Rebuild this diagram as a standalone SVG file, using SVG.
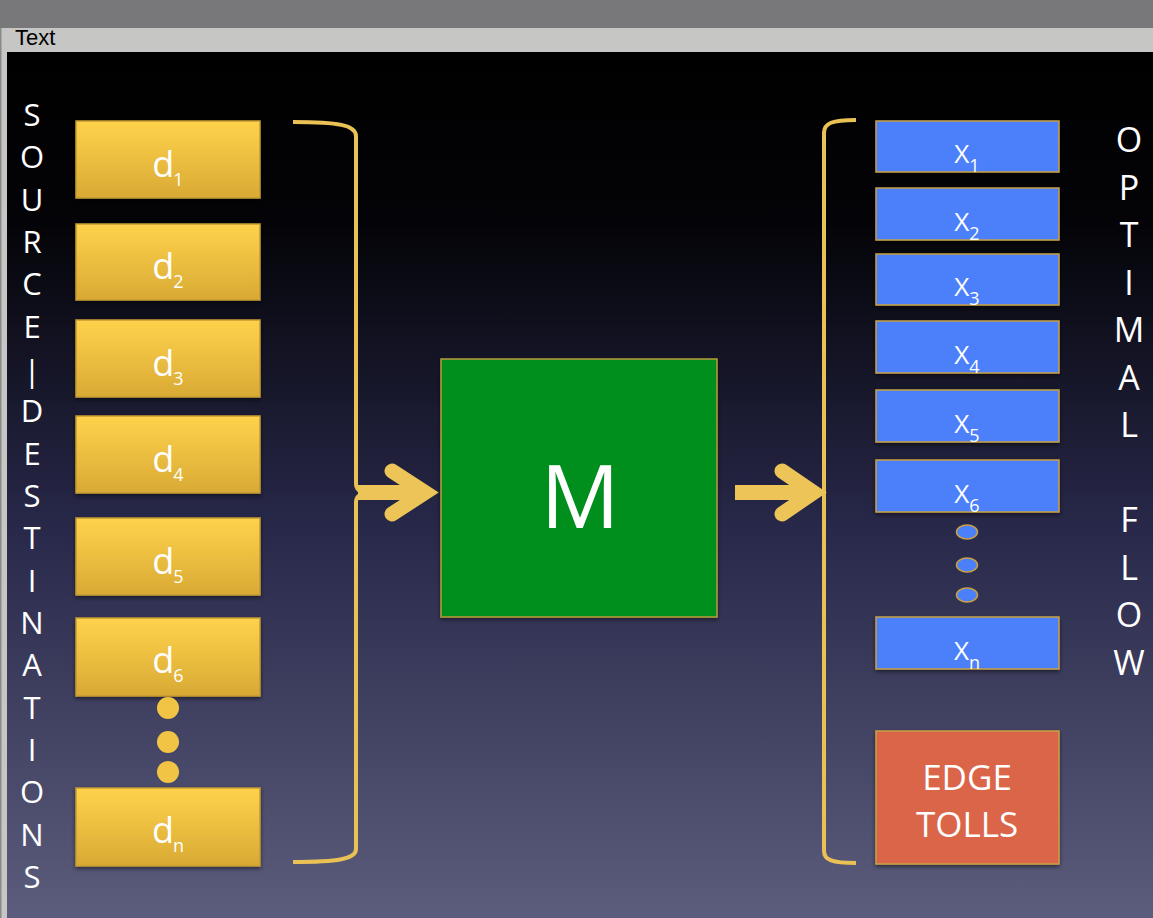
<svg xmlns="http://www.w3.org/2000/svg" width="1153" height="918" viewBox="0 0 1153 918">
<defs>
<linearGradient id="bg" x1="0" y1="0" x2="0" y2="1">
<stop offset="0" stop-color="#000000"/>
<stop offset="0.2" stop-color="#040408"/>
<stop offset="0.55" stop-color="#28284a"/>
<stop offset="1" stop-color="#5c5d7c"/>
</linearGradient>
<linearGradient id="gold" x1="0" y1="0" x2="0" y2="1">
<stop offset="0" stop-color="#ffd24c"/>
<stop offset="1" stop-color="#d8aa34"/>
</linearGradient>
<filter id="sh" x="-10%" y="-10%" width="120%" height="130%">
<feDropShadow dx="0" dy="2" stdDeviation="2" flood-color="#000" flood-opacity="0.5"/>
</filter>
<style>
.gbox{fill:url(#gold);stroke:#c49a30;stroke-width:1.5;filter:url(#sh)}
.bbox{fill:#4b80fa;stroke:#c8a044;stroke-width:1.5;filter:url(#sh)}
.dot{fill:#f2c446}
.bdot{fill:#4b80fa;stroke:#c8a044;stroke-width:1.5}
.lbl{font-family:"Open Sans","DejaVu Sans",sans-serif;fill:#ffffff;text-anchor:middle}
.dl{font-size:36px}
.xl{font-size:26px}
.sub{font-size:18px}
.vt{font-family:"Open Sans","DejaVu Sans",sans-serif;fill:#ffffff;text-anchor:middle;font-size:31px}
.vr{font-size:34px}
.br{fill:none;stroke:#e9c155;stroke-width:4}
.arm{fill:none;stroke:#ecc458;stroke-width:15;stroke-linecap:round;stroke-linejoin:miter}
.shaft{fill:#ecc458}
</style>
</defs>
<rect x="0" y="0" width="1153" height="918" fill="#c6c7c5"/>
<rect x="0" y="0" width="1153" height="28" fill="#78787b"/>
<rect x="0" y="28" width="1.5" height="890" fill="#8a8a8a"/>
<text x="15" y="45" font-family="Liberation Sans, Arial, sans-serif" font-size="22" fill="#000">Text</text>
<rect x="7" y="52" width="1146" height="866" fill="url(#bg)"/>

<g id="source-label">
<text class="vt" x="32"><tspan x="32" y="126">S</tspan><tspan x="32" y="168">O</tspan><tspan x="32" y="211">U</tspan><tspan x="32" y="253">R</tspan><tspan x="32" y="295">C</tspan><tspan x="32" y="338">E</tspan><tspan x="32" y="382">|</tspan><tspan x="32" y="422">D</tspan><tspan x="32" y="465">E</tspan><tspan x="32" y="507">S</tspan><tspan x="32" y="549">T</tspan><tspan x="32" y="592">I</tspan><tspan x="32" y="634">N</tspan><tspan x="32" y="676">A</tspan><tspan x="32" y="719">T</tspan><tspan x="32" y="761">I</tspan><tspan x="32" y="803">O</tspan><tspan x="32" y="846">N</tspan><tspan x="32" y="888">S</tspan></text>
</g>

<g id="flow-label">
<text class="vt vr"><tspan x="1129" y="152">O</tspan><tspan x="1129" y="200">P</tspan><tspan x="1129" y="247">T</tspan><tspan x="1129" y="295">I</tspan><tspan x="1129" y="342">M</tspan><tspan x="1129" y="390">A</tspan><tspan x="1129" y="437">L</tspan><tspan x="1129" y="532">F</tspan><tspan x="1129" y="580">L</tspan><tspan x="1129" y="627">O</tspan><tspan x="1129" y="675">W</tspan></text>
</g>

<g id="d1"><rect class="gbox" x="76" y="121" width="184" height="77"/><text class="lbl dl" x="168" y="177">d<tspan class="sub" dx="-1" dy="9">1</tspan></text></g>
<g id="d2"><rect class="gbox" x="76" y="224" width="184" height="76"/><text class="lbl dl" x="168" y="279">d<tspan class="sub" dx="-1" dy="9">2</tspan></text></g>
<g id="d3"><rect class="gbox" x="76" y="320" width="184" height="77"/><text class="lbl dl" x="168" y="376">d<tspan class="sub" dx="-1" dy="9">3</tspan></text></g>
<g id="d4"><rect class="gbox" x="76" y="416" width="184" height="77"/><text class="lbl dl" x="168" y="472">d<tspan class="sub" dx="-1" dy="9">4</tspan></text></g>
<g id="d5"><rect class="gbox" x="76" y="518" width="184" height="77"/><text class="lbl dl" x="168" y="574">d<tspan class="sub" dx="-1" dy="9">5</tspan></text></g>
<g id="d6"><rect class="gbox" x="76" y="618" width="184" height="78"/><text class="lbl dl" x="168" y="673">d<tspan class="sub" dx="-1" dy="9">6</tspan></text></g>
<g id="d-dots"><circle class="dot" cx="168" cy="708" r="11"/><circle class="dot" cx="168" cy="742" r="11"/><circle class="dot" cx="168" cy="772" r="11"/></g>
<g id="dn"><rect class="gbox" x="76" y="788" width="184" height="78"/><text class="lbl dl" x="168" y="843">d<tspan class="sub" dx="-1" dy="9">n</tspan></text></g>

<g id="M"><rect x="441" y="359" width="276" height="258" fill="#008f1c" stroke="#b89a3a" stroke-width="1.5" filter="url(#sh)"/><text class="lbl" x="580" y="528" font-size="88">M</text></g>

<g id="x1"><rect class="bbox" x="876" y="121" width="183" height="51"/><text class="lbl xl" x="967" y="163">X<tspan class="sub" dy="9">1</tspan></text></g>
<g id="x2"><rect class="bbox" x="876" y="188" width="183" height="52"/><text class="lbl xl" x="967" y="231">X<tspan class="sub" dy="9">2</tspan></text></g>
<g id="x3"><rect class="bbox" x="876" y="254" width="183" height="51"/><text class="lbl xl" x="967" y="296">X<tspan class="sub" dy="9">3</tspan></text></g>
<g id="x4"><rect class="bbox" x="876" y="321" width="183" height="52"/><text class="lbl xl" x="967" y="364">X<tspan class="sub" dy="9">4</tspan></text></g>
<g id="x5"><rect class="bbox" x="876" y="390" width="183" height="52"/><text class="lbl xl" x="967" y="433">X<tspan class="sub" dy="9">5</tspan></text></g>
<g id="x6"><rect class="bbox" x="876" y="460" width="183" height="52"/><text class="lbl xl" x="967" y="503">X<tspan class="sub" dy="9">6</tspan></text></g>
<g id="x-dots"><ellipse class="bdot" cx="967" cy="532" rx="10.5" ry="7"/><ellipse class="bdot" cx="967" cy="565" rx="10.5" ry="7"/><ellipse class="bdot" cx="967" cy="595" rx="10.5" ry="7"/></g>
<g id="xn"><rect class="bbox" x="876" y="617" width="183" height="52"/><text class="lbl xl" x="967" y="660">X<tspan class="sub" dy="9">n</tspan></text></g>

<g id="edge-tolls"><rect x="876" y="731" width="183" height="133" fill="#da654a" stroke="#c8a044" stroke-width="1.5" filter="url(#sh)"/><text class="lbl" x="967" y="790" font-size="35">EDGE</text><text class="lbl" x="967" y="837" font-size="35">TOLLS</text></g>

<g id="connectors">
<path class="br" d="M293,122 C338,122 356,125 356,136 L356,484 Q356,490 363,493 Q356,496 356,502 L356,849 C356,859 338,862 293,862"/>
<path class="br" d="M856,120 C832,120 824,123 824,133 L824,851 C824,860 832,863 856,863"/>
<rect class="shaft" x="358" y="485" width="64" height="15"/>
<polyline class="arm" points="392,471 425,492.5 392,514"/>
<rect class="shaft" x="735" y="485" width="70" height="15"/>
<polyline class="arm" points="782,471 813.5,492.5 782,514"/>
</g>
</svg>
